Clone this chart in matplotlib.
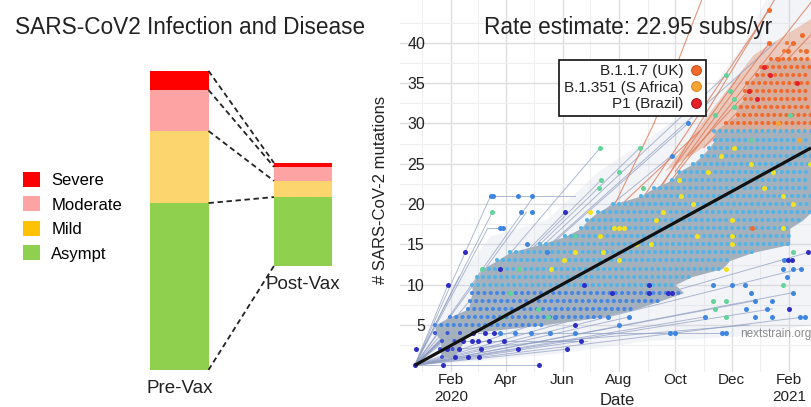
import numpy as np
import matplotlib
matplotlib.use("Agg")
import matplotlib.pyplot as plt
import matplotlib.dates as mdates
from matplotlib.patches import Patch
from matplotlib.lines import Line2D

plt.rcParams["font.family"] = ["Liberation Sans", "DejaVu Sans"]

# ---------------- left panel: share of infections by severity (%)
stages = ["Severe", "Moderate", "Mild", "Asympt"]
pre_vax = [6.4, 13.7, 24.1, 55.8]
post_vax = [1.3, 4.7, 5.4, 23.0]
post_vax_base = 34.8
bar_labels = ["Pre-Vax", "Post-Vax"]

# ---------------- right panel: nextstrain root-to-tip (mutations vs date)
rate_subs_per_year = 22.95
root_date = "2019-12-24"

# rows of densely sampled genomes: mutation count, first / last date, clade group
row_mut = list(range(1, 41))
row_start = ["2020-01-22", "2020-01-20", "2020-01-22", "2020-01-15", "2020-01-15",
             "2020-01-31", "2020-02-20", "2020-02-22", "2020-02-24", "2020-02-24",
             "2020-02-29", "2020-03-07", "2020-03-22", "2020-04-05", "2020-05-08",
             "2020-06-04", "2020-06-21", "2020-06-28", "2020-07-09", "2020-07-26",
             "2020-08-25", "2020-09-08", "2020-09-28", "2020-10-05", "2020-10-20",
             "2020-10-30", "2020-11-07", "2020-11-13", "2020-11-12", "2020-11-25",
             "2020-12-08", "2020-12-05", "2020-12-15", "2020-12-15", "2020-12-18",
             "2020-12-29", "2021-01-02", "2021-01-13", "2021-01-27", "2021-01-30"]
row_end = ["2020-02-04", "2020-02-10", "2020-02-15", "2020-02-20", "2020-05-10",
           "2020-07-15", "2020-08-20", "2020-09-15", "2020-10-10", "2020-10-01",
           "2020-10-19", "2020-11-21", "2020-11-29", "2020-12-24", "2021-02-02",
           "2021-02-02", "2021-02-02", "2021-02-16", "2021-02-25", "2021-02-25",
           "2021-02-25", "2021-02-25", "2021-02-25", "2021-02-25", "2021-02-25",
           "2021-02-25", "2021-02-25", "2021-02-25", "2021-02-25", "2021-02-25",
           "2021-02-25", "2021-02-25", "2021-02-25", "2021-02-25", "2021-02-25",
           "2021-02-25", "2021-02-25", "2021-02-25", "2021-02-20", "2021-02-08"]
row_group = (["early"] * 4 + ["mid"] * 5 + ["main"] * 20 + ["uk"] * 9 + ["uk_sparse"] * 2)

grey_branches = [
    ("2019-12-24", 0, "2020-03-15", 21), ("2020-03-15", 21, "2020-06-15", 21),
    ("2019-12-24", 0, "2020-03-17", 19), ("2020-03-12", 17, "2020-03-29", 17),
    ("2019-12-24", 0, "2020-03-12", 17), ("2019-12-24", 0, "2020-02-10", 11),
    ("2019-12-24", 0, "2020-01-29", 10), ("2019-12-24", 0, "2020-04-23", 19),
    ("2019-12-24", 0, "2020-05-01", 21), ("2019-12-24", 0, "2020-06-04", 19),
    ("2019-12-24", 0, "2020-07-12", 27), ("2019-12-24", 0, "2020-08-24", 27),
    ("2019-12-24", 0, "2020-07-13", 23), ("2019-12-24", 0, "2020-11-25", 36),
    ("2019-12-24", 0, "2020-09-27", 26), ("2019-12-24", 0, "2020-10-15", 30),
    ("2019-12-24", 0, "2021-01-17", 40), ("2019-12-24", 0, "2020-05-07", 0),
    ("2019-12-24", 0, "2020-06-06", 2), ("2019-12-24", 0, "2020-06-21", 3),
    ("2020-03-01", 4, "2020-11-22", 4), ("2019-12-24", 0, "2021-02-18", 6),
    ("2019-12-24", 0, "2021-02-05", 9), ("2019-12-24", 0, "2021-02-22", 14),
    ("2019-12-24", 0, "2021-02-14", 12), ("2019-12-24", 0, "2020-12-26", 8),
    ("2019-12-24", 0, "2021-01-14", 7), ("2019-12-24", 0, "2020-11-02", 6),
    ("2019-12-24", 0, "2020-09-03", 10), ("2019-12-24", 0, "2020-08-12", 6),
    ("2020-02-01", 3, "2020-06-27", 3), ("2020-02-10", 2, "2020-12-20", 5),
]
orange_branches = [
    ("2020-06-24", 12, "2020-09-08", 30), ("2020-09-08", 30, "2020-11-01", 46),
    ("2020-06-28", 16, "2020-10-27", 29), ("2020-08-05", 17, "2021-01-10", 44),
    ("2020-08-20", 18, "2020-12-10", 36), ("2020-09-05", 20, "2021-01-20", 46),
    ("2020-09-20", 22, "2021-02-25", 45), ("2020-10-01", 24, "2021-01-11", 40),
    ("2020-10-15", 26, "2021-02-06", 40), ("2020-11-01", 27, "2021-02-25", 41),
]
haze_outline = [("2019-12-24", 0), ("2020-02-10", 11), ("2020-03-15", 16), ("2020-05-15", 18),
                ("2020-07-10", 24), ("2020-09-01", 28), ("2020-11-01", 33), ("2020-12-15", 40),
                ("2021-01-10", 46), ("2021-02-26", 46), ("2021-02-26", 5), ("2020-12-01", 3.5),
                ("2020-09-01", 3), ("2020-06-01", 1.5), ("2020-03-01", 0.5)]
uk_haze_outline = [("2020-09-20", 24), ("2020-12-05", 29.5), ("2021-02-26", 29.5),
                   ("2021-02-26", 43), ("2020-12-25", 38.5)]

blue_dots = [("2020-11-11", 10), ("2020-12-02", 10), ("2020-12-15", 10), ("2020-12-22", 9),
             ("2020-12-26", 8), ("2021-01-14", 8), ("2021-02-05", 9), ("2020-11-02", 6),
             ("2020-12-26", 6), ("2021-01-14", 6), ("2021-02-18", 6), ("2020-11-25", 4),
             ("2021-01-26", 12), ("2021-02-05", 12), ("2021-02-14", 12), ("2021-01-30", 11),
             ("2021-01-08", 7), ("2020-12-17", 7), ("2020-06-15", 4), ("2020-08-01", 5),
             ("2020-08-12", 6), ("2020-07-20", 6), ("2020-05-24", 6), ("2020-10-01", 4),
             ("2020-03-25", 4), ("2020-04-10", 4), ("2020-04-28", 4), ("2020-05-18", 4),
             ("2020-09-25", 4), ("2020-11-21", 4), ("2020-03-15", 21), ("2020-03-18", 21),
             ("2020-04-14", 21), ("2020-04-29", 21), ("2020-04-17", 19), ("2020-04-29", 19),
             ("2020-03-25", 17), ("2020-03-29", 17), ("2020-04-23", 15), ("2020-05-15", 14),
             ("2021-02-13", 6), ("2021-01-27", 13), ("2020-09-27", 26), ("2020-10-15", 30)]
dark_dots = [("2019-12-25", 2), ("2020-01-24", 0), ("2020-05-07", 0), ("2020-01-29", 10),
             ("2020-02-24", 3), ("2020-03-09", 4), ("2020-03-19", 4), ("2020-03-30", 3),
             ("2020-04-14", 2), ("2020-02-06", 1), ("2020-02-16", 14), ("2020-03-25", 12),
             ("2020-06-04", 19), ("2020-06-24", 10), ("2020-07-24", 9), ("2020-09-03", 10),
             ("2020-09-03", 9), ("2020-09-23", 9), ("2020-06-06", 2), ("2020-06-21", 3),
             ("2020-06-15", 5), ("2021-02-01", 7), ("2021-02-22", 14), ("2021-01-31", 13),
             ("2021-02-04", 13), ("2020-09-27", 9), ("2020-01-28", 2), ("2020-02-10", 2),
             ("2020-02-20", 1), ("2020-03-05", 2), ("2019-12-24", 0), ("2020-02-14", 3),
             ("2020-03-01", 3), ("2020-03-13", 3), ("2020-02-25", 4), ("2020-03-02", 1)]
yellow_dots = [("2020-07-01", 19), ("2020-07-12", 16), ("2020-07-27", 17), ("2020-08-01", 17),
               ("2020-09-05", 15), ("2020-08-20", 15), ("2020-06-03", 13), ("2020-08-01", 13),
               ("2020-09-10", 18), ("2020-10-05", 23), ("2020-12-04", 27), ("2020-12-22", 25),
               ("2020-11-20", 26), ("2021-01-26", 21), ("2021-02-24", 25), ("2020-10-07", 21),
               ("2020-12-02", 18), ("2021-02-05", 20), ("2020-12-02", 15), ("2020-11-25", 12),
               ("2021-01-26", 17), ("2020-09-18", 19), ("2020-06-15", 14), ("2020-12-02", 16),
               ("2020-08-06", 17), ("2020-10-20", 20), ("2020-11-05", 24), ("2021-01-05", 22),
               ("2021-01-15", 24), ("2020-07-15", 14), ("2020-05-20", 12), ("2020-10-25", 16)]
green_dots = [("2020-03-17", 19), ("2020-03-06", 12), ("2020-04-15", 12), ("2020-03-27", 6),
              ("2020-07-12", 27), ("2020-08-24", 27), ("2020-07-13", 23), ("2020-07-11", 22),
              ("2020-08-01", 24), ("2020-08-27", 22), ("2020-06-15", 16), ("2020-05-16", 6),
              ("2020-11-25", 36), ("2020-11-29", 34), ("2020-12-04", 33), ("2020-12-04", 32),
              ("2020-11-13", 31), ("2021-02-02", 31), ("2020-12-22", 28), ("2021-02-05", 14),
              ("2020-11-11", 8), ("2020-11-25", 8), ("2020-11-25", 6), ("2021-01-26", 10),
              ("2020-11-13", 7), ("2020-04-05", 9), ("2020-05-05", 7)]
uk_dots = [("2021-01-10", 44), ("2021-02-06", 40), ("2021-01-11", 40), ("2021-01-31", 39),
           ("2021-02-20", 39), ("2021-01-20", 38), ("2020-12-23", 17), ("2021-02-15", 41)]
brazil_dots = [("2021-01-05", 37), ("2020-12-20", 34), ("2021-01-12", 36), ("2020-12-28", 33),
               ("2021-02-10", 35)]
safrica_dots = [("2021-01-20", 30), ("2021-02-12", 28)]

tick_dates = ["2020-02-01", "2020-04-01", "2020-06-01", "2020-08-01",
              "2020-10-01", "2020-12-01", "2021-02-01"]
tick_labels = ["Feb\n2020", "Apr", "Jun", "Aug", "Oct", "Dec", "Feb\n2021"]
minor_dates = ["2020-01-01", "2020-03-01", "2020-05-01", "2020-07-01",
               "2020-09-01", "2020-11-01", "2021-01-01"]
variant_names = ["B.1.1.7 (UK)", "B.1.351 (S Africa)", "P1 (Brazil)"]


def d(s):
    return mdates.datestr2num(s)


fig = plt.figure(figsize=(8.11, 4.07), dpi=100)

# ================= left panel
bar_colors = ["#ff0000", "#fda3a3", "#fdd56f", "#8fd14f"]
legend_colors = ["#ff0000", "#fda3a3", "#ffc000", "#8fd14f"]

axl = fig.add_axes([0, 0, 400 / 811, 1])
axl.set_xlim(-1.453, 1.785)
axl.set_ylim(-12.4, 123.7)
axl.axis("off")

w = 0.47
bases = [0, post_vax_base]
stacks = [pre_vax, post_vax]
edges = []
for i, vals in enumerate(stacks):
    bottom = bases[i]
    bnds = [bottom]
    # draw from the bottom (Asympt) upward
    for v, c in zip(vals[::-1], bar_colors[::-1]):
        axl.bar(i, v, width=w, bottom=bottom, color=c, linewidth=0)
        bottom += v
        bnds.append(bottom)
    edges.append(bnds)
    axl.annotate(bar_labels[i], (i, bases[i]), xytext=(0, -7), textcoords="offset points",
                 ha="center", va="top", fontsize=13.5, color="#222222")

for b0, b1 in zip(edges[0], edges[1]):
    axl.plot([w / 2, 1 - w / 2], [b0, b1], color="#222222", lw=1.3,
             linestyle=(0, (3, 2)))

fig.text(190 / 811, 1 - 28 / 407, "SARS-CoV2 Infection and Disease",
         ha="center", va="center", fontsize=16.3, color="#222222")
handles = [Patch(facecolor=c, edgecolor="none") for c in legend_colors]
fig.legend(handles, stages, loc="upper left", bbox_to_anchor=(23 / 811, 1 - 172 / 407),
           frameon=False, fontsize=12, handlelength=1.0, handleheight=1.0,
           handletextpad=0.7, labelspacing=0.5, borderpad=0, borderaxespad=0)

# ================= right panel
axr = fig.add_axes([400 / 811, 35 / 407, 411 / 811, 372 / 407])
axr.set_xlim(d("2019-12-08"), d("2021-02-25"))
axr.set_ylim(-0.83, 45.3)
for s in axr.spines.values():
    s.set_visible(False)
axr.set_axisbelow(True)

axr.set_xticks(d(tick_dates))
axr.set_xticklabels(tick_labels)
axr.set_xticks(d(minor_dates), minor=True)
axr.set_yticks([5, 10, 15, 20, 25, 30, 35, 40])
axr.set_yticks([2.5, 7.5, 12.5, 17.5, 22.5, 27.5, 32.5, 37.5, 42.5], minor=True)
axr.grid(True, which="major", color="#dedede", lw=1.0)
axr.grid(True, which="minor", color="#efefef", lw=0.8)
axr.tick_params(which="both", length=0)
axr.tick_params(axis="x", labelsize=11, pad=1, colors="#222222")
axr.tick_params(axis="y", labelsize=11.5, pad=-18, colors="#222222")

# faint fan of branches
hx = [d(p[0]) for p in haze_outline]
hy = [p[1] for p in haze_outline]
axr.fill(hx, hy, color="#c9d0de", alpha=0.22, lw=0, zorder=1)
ux = [d(p[0]) for p in uk_haze_outline]
uy = [p[1] for p in uk_haze_outline]
axr.fill(ux, uy, color="#e6a78e", alpha=0.55, lw=0, zorder=1.2)

for x0, y0, x1, y1 in grey_branches:
    axr.plot([d(x0), d(x1)], [y0, y1], color="#8d9cc2", lw=0.7, alpha=0.7, zorder=1.5)
for x0, y0, x1, y1 in orange_branches:
    axr.plot([d(x0), d(x1)], [y0, y1], color="#e07a58", lw=0.8, alpha=0.8, zorder=1.6)

# dense cloud of overlapping branches behind the sampled rows
rs = d(row_start)
re_ = d(row_end)
grp = np.array(row_group)
rm = np.array(row_mut)
main = grp != "uk_sparse"
blue_part = main & (rm <= 30)
axr.fill_betweenx(rm[blue_part], rs[blue_part], re_[blue_part],
                  color="#a5b0bd", lw=0, zorder=2)
uk = (rm >= 29) & main
axr.fill_betweenx(rm[uk], rs[uk], re_[uk], color="#d6ad9c", lw=0, zorder=2)

group_color = {"early": "#3d55d8", "mid": "#4486e4", "main": "#52b4e6",
               "uk": "#f26a2b", "uk_sparse": "#f07a35"}
group_gap = {"early": 3.0, "mid": 1.5, "main": 1.45, "uk": 1.45, "uk_sparse": 4.0}
for m, a, b, g in zip(row_mut, rs, re_, row_group):
    axr.hlines(m, a, b, colors=group_color[g], lw=3.0,
               linestyles=[(0, (0.001, group_gap[g]))], capstyle="round", zorder=3)

for pts, col in [(blue_dots, "#3f86e2"), (dark_dots, "#2e2ec6"), (yellow_dots, "#f4e21c"),
                 (green_dots, "#62d49a"), (uk_dots, "#f26a2b"), (brazil_dots, "#e5202a"),
                 (safrica_dots, "#f7a530")]:
    axr.scatter([d(p[0]) for p in pts], [p[1] for p in pts], s=13, color=col,
                lw=0, zorder=4)

# clock-rate regression line
xr = np.array([d(root_date), axr.get_xlim()[1]])
yr = rate_subs_per_year * (xr - xr[0]) / 365.25
axr.plot(xr, yr, color="#111111", lw=2.3, zorder=5, solid_capstyle="butt")

axr.text(0.556, 0.925, f"Rate estimate: {rate_subs_per_year:.2f} subs/yr",
         transform=axr.transAxes, ha="center", va="center", fontsize=16.3,
         color="#222222", zorder=6)
axr.text(1.0, 0.102, "nextstrain.org", transform=axr.transAxes, ha="right",
         va="center", fontsize=8.5, color="#8a8a8a", zorder=6)

vh = [Line2D([], [], ls="none", marker="o", ms=7, mfc=c, mec=e, mew=0.8)
      for c, e in [("#f26a2b", "#c9501c"), ("#f7a530", "#d88a1c"), ("#e5202a", "#b5141c")]]
lg = axr.legend(vh, variant_names, loc="upper right", bbox_to_anchor=(0.745, 0.839),
                markerfirst=False, fontsize=11, frameon=True, fancybox=False,
                framealpha=1, edgecolor="#111111", handlelength=0.8,
                handletextpad=0.4, labelspacing=0.15, borderpad=0.3, borderaxespad=0)
lg.get_frame().set_linewidth(1.2)
lg.set_zorder(7)
for t in lg.get_texts():
    t.set_ha("right")
    t.set_color("#222222")

axr.set_ylabel("# SARS-CoV-2 mutations", fontsize=12, color="#222222")
axr.yaxis.set_label_coords(-0.029, 0.489)
axr.set_xlabel("Date", fontsize=12, color="#222222")
axr.xaxis.set_label_coords(0.528, -0.056)

fig.savefig("out.png", dpi=100)
